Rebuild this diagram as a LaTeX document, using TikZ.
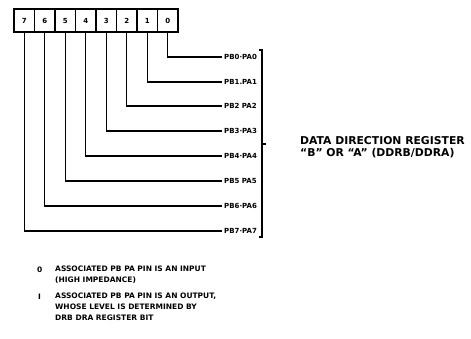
\documentclass[tikz,border=0pt]{standalone}
\usepackage{fontspec}
\setmainfont{DejaVu Sans}
\begin{document}
\begin{tikzpicture}[x=1pt,y=-1pt,
  cell/.style={draw,line width=1.2pt,minimum width=20.5pt,minimum height=23pt,inner sep=0pt,font=\bfseries\fontsize{7}{8}\selectfont},
  pin/.style={anchor=west,inner sep=2pt,font=\bfseries\fontsize{7}{8}\selectfont},
  wire/.style={line width=1.3pt},
  legend/.style={anchor=west,inner sep=0pt,align=left,font=\bfseries\fontsize{7.5}{11}\selectfont},
  reg/.style={anchor=west,inner sep=0pt,align=left,font=\bfseries\fontsize{10.8}{11.5}\selectfont}]
\useasboundingbox (0,0) rectangle (471,338);
% register cells
\foreach \i in {0,...,7}{
  \node[cell] (b\i) at ({14+20.5*(7-\i)+10.25},20.5) {\i};
}
% pin labels
\node[pin] (l0) at (222,57) {PB0·PA0};
\node[pin] (l1) at (222,82) {PB1.PA1};
\node[pin] (l2) at (222,106) {PB2 PA2};
\node[pin] (l3) at (222,131) {PB3·PA3};
\node[pin] (l4) at (222,156) {PB4·PA4};
\node[pin] (l5) at (222,181) {PB5 PA5};
\node[pin] (l6) at (222,206) {PB6·PA6};
\node[pin] (l7) at (222,231) {PB7·PA7};
\foreach \i in {0,...,7}{
  \draw[wire] (b\i.south) |- (l\i.west);
}
% bracket
\coordinate (bt) at (262,50);
\coordinate (bb) at (262,237);
\coordinate (bm) at (262,144);
\draw[line width=1.1pt] ([xshift=-3pt]bt) -- (bt) -- (bb) -- ([xshift=-3pt]bb);
\draw[line width=1.1pt] (bm) -- ++(4,0);
\node[reg] (regtxt) at (300,147) {DATA DIRECTION REGISTER\\``B'' OR ``A'' (DDRB/DDRA)};
% legend
\node[legend] (k0) at (37,270) {0};
\node[legend,anchor=north west] (t0) at (55,266) {ASSOCIATED PB PA PIN IS AN INPUT\\(HIGH IMPEDANCE)};
\node[legend] (k1) at (38,297) {I};
\node[legend,anchor=north west] (t1) at (55,293) {ASSOCIATED PB PA PIN IS AN OUTPUT,\\WHOSE LEVEL IS DETERMINED BY\\DRB DRA REGISTER BIT};
\end{tikzpicture}
\end{document}
